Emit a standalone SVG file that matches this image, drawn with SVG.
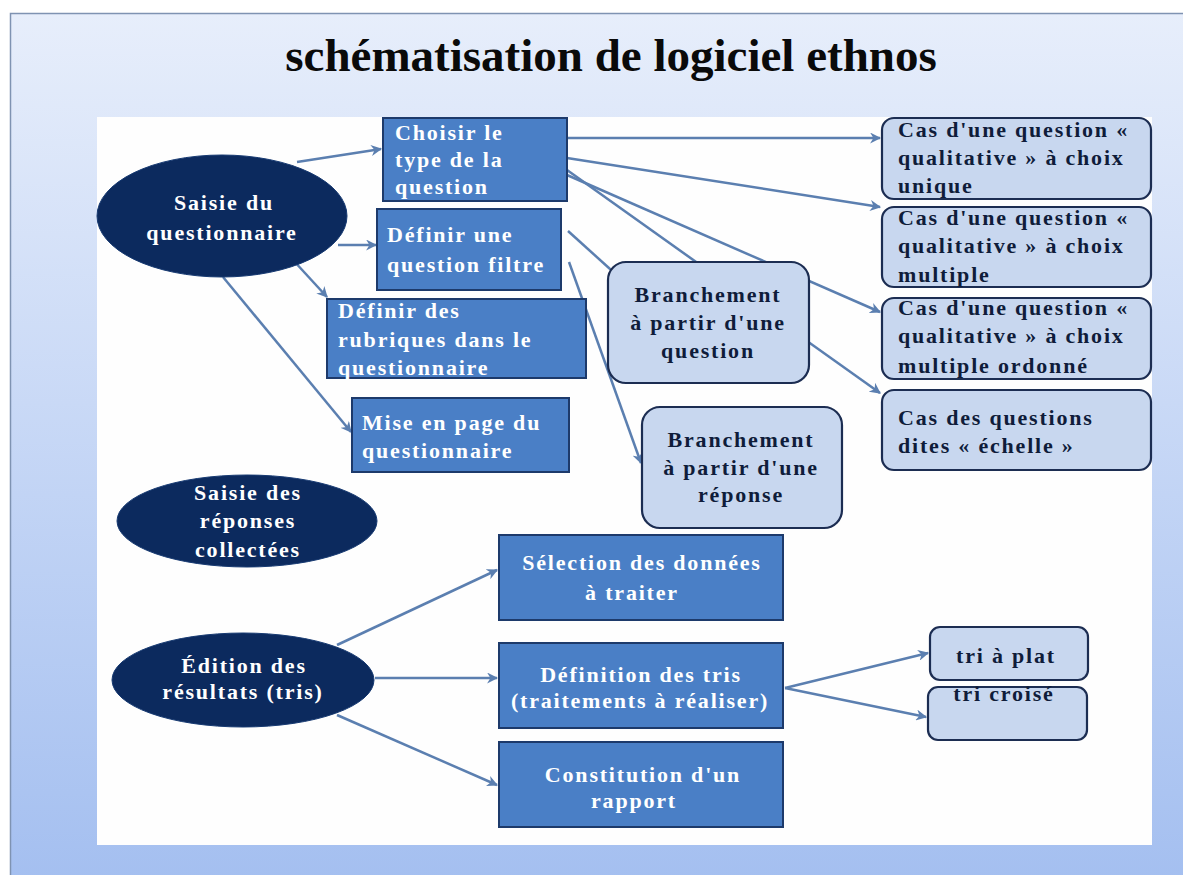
<svg xmlns="http://www.w3.org/2000/svg" width="1183" height="875" viewBox="0 0 1183 875">
<defs>
<linearGradient id="bg" x1="0" y1="0" x2="0" y2="1">
<stop offset="0" stop-color="#e7eefb"/>
<stop offset="1" stop-color="#a4bff0"/>
</linearGradient>
<marker id="ah" viewBox="0 0 10 10" refX="9" refY="5" markerWidth="4.4" markerHeight="4.4" orient="auto" markerUnits="strokeWidth">
<path d="M0,0 L10,5 L0,10 L3,5 z" fill="#5b7fb0"/>
</marker>
<style>
.t{font-family:"Liberation Serif","Times New Roman",serif;font-weight:bold;font-size:22px;letter-spacing:1.8px}
.w{fill:#ffffff}
.k{fill:#0f1c3a}
.m{text-anchor:middle}
.dk{fill:#4a7fc6;stroke:#1d3a6b;stroke-width:2}
.lt{fill:#c8d7ef;stroke:#1c2d52;stroke-width:2.2}
.el{fill:#0c2a5e;stroke:#173a72;stroke-width:1}
.c line{stroke:#5b7fb0;stroke-width:2.5;marker-end:url(#ah)}
</style>
</defs>
<rect x="0" y="0" width="1183" height="875" fill="#ffffff"/>
<rect x="10.5" y="13.5" width="1180" height="870" fill="url(#bg)" stroke="#7f93b2" stroke-width="1.5"/>
<rect x="97" y="117" width="1055" height="728" fill="#fefefe"/>
<text x="611" y="71" text-anchor="middle" font-family="Liberation Serif, Times New Roman, serif" font-weight="bold" font-size="47" fill="#0a0a0a">schématisation de logiciel ethnos</text>

<g class="c" id="connectors">
<line x1="297" y1="162" x2="381" y2="149"/>
<line x1="338" y1="245" x2="376" y2="245"/>
<line x1="293" y1="260" x2="327" y2="297"/>
<line x1="223" y1="277" x2="351" y2="432"/>
<line x1="567" y1="138" x2="880" y2="138"/>
<line x1="567" y1="158" x2="880" y2="207"/>
<line x1="567" y1="175" x2="880" y2="312"/>
<line x1="567" y1="170" x2="880" y2="393"/>
<line x1="568" y1="231" x2="620" y2="278"/>
<line x1="569" y1="262" x2="641" y2="463"/>
<line x1="337" y1="645" x2="497" y2="570"/>
<line x1="375" y1="678" x2="497" y2="678"/>
<line x1="337" y1="715" x2="497" y2="785"/>
<line x1="785" y1="688" x2="928" y2="653"/>
<line x1="785" y1="688" x2="926" y2="717"/>
</g>

<g id="saisie-questionnaire">
<ellipse class="el" cx="222" cy="216" rx="125" ry="61"/>
<text class="t w m" x="224" y="210">Saisie du</text>
<text class="t w m" x="222" y="240">questionnaire</text>
</g>
<g id="choisir-type">
<rect class="dk" x="383" y="118" width="184" height="83"/>
<text class="t w" x="395" y="140">Choisir le</text>
<text class="t w" x="395" y="167">type de la</text>
<text class="t w" x="395" y="194">question</text>
</g>
<g id="definir-filtre">
<rect class="dk" x="377" y="209" width="184" height="81"/>
<text class="t w" x="387" y="242">Définir une</text>
<text class="t w" x="387" y="272">question filtre</text>
</g>
<g id="definir-rubriques">
<rect class="dk" x="327" y="299" width="259" height="79"/>
<text class="t w" x="338" y="318">Définir des</text>
<text class="t w" x="338" y="347">rubriques dans le</text>
<text class="t w" x="338" y="375">questionnaire</text>
</g>
<g id="mise-en-page">
<rect class="dk" x="352" y="398" width="217" height="74"/>
<text class="t w" x="362" y="430">Mise en page du</text>
<text class="t w" x="362" y="458">questionnaire</text>
</g>
<g id="branchement-question">
<rect class="lt" x="608" y="262" width="201" height="121" rx="18"/>
<text class="t k m" x="708" y="302">Branchement</text>
<text class="t k m" x="708" y="330">à partir d'une</text>
<text class="t k m" x="708" y="358">question</text>
</g>
<g id="branchement-reponse">
<rect class="lt" x="642" y="407" width="200" height="121" rx="18"/>
<text class="t k m" x="741" y="447">Branchement</text>
<text class="t k m" x="741" y="475">à partir d'une</text>
<text class="t k m" x="741" y="502">réponse</text>
</g>
<g id="cas-unique">
<rect class="lt" x="882" y="118" width="269" height="81" rx="12"/>
<text class="t k" x="898" y="137">Cas d'une question «</text>
<text class="t k" x="898" y="165">qualitative » à choix</text>
<text class="t k" x="898" y="193">unique</text>
</g>
<g id="cas-multiple">
<rect class="lt" x="882" y="207" width="269" height="80" rx="12"/>
<text class="t k" x="898" y="225">Cas d'une question «</text>
<text class="t k" x="898" y="253">qualitative » à choix</text>
<text class="t k" x="898" y="282">multiple</text>
</g>
<g id="cas-ordonne">
<rect class="lt" x="882" y="298" width="269" height="81" rx="12"/>
<text class="t k" x="898" y="315">Cas d'une question «</text>
<text class="t k" x="898" y="343">qualitative » à choix</text>
<text class="t k" x="898" y="373">multiple ordonné</text>
</g>
<g id="cas-echelle">
<rect class="lt" x="882" y="390" width="269" height="80" rx="12"/>
<text class="t k" x="898" y="425">Cas des questions</text>
<text class="t k" x="898" y="453">dites « échelle »</text>
</g>
<g id="saisie-reponses">
<ellipse class="el" cx="247" cy="521" rx="130" ry="46"/>
<text class="t w m" x="248" y="500">Saisie des</text>
<text class="t w m" x="248" y="528">réponses</text>
<text class="t w m" x="248" y="557">collectées</text>
</g>
<g id="edition-resultats">
<ellipse class="el" cx="243" cy="680" rx="131" ry="47"/>
<text class="t w m" x="244" y="673">Édition des</text>
<text class="t w m" x="243" y="699">résultats (tris)</text>
</g>
<g id="selection-donnees">
<rect class="dk" x="499" y="535" width="284" height="85"/>
<text class="t w m" x="642" y="570">Sélection des données</text>
<text class="t w m" x="632" y="600">à traiter</text>
</g>
<g id="definition-tris">
<rect class="dk" x="499" y="643" width="284" height="85"/>
<text class="t w m" x="641" y="682">Définition des tris</text>
<text class="t w m" x="640" y="708">(traitements à réaliser)</text>
</g>
<g id="constitution-rapport">
<rect class="dk" x="499" y="742" width="284" height="85"/>
<text class="t w m" x="643" y="782">Constitution d'un</text>
<text class="t w m" x="634" y="808">rapport</text>
</g>
<g id="tri-plat">
<rect class="lt" x="930" y="627" width="158" height="53" rx="10"/>
<text class="t k m" x="1006" y="663">tri à plat</text>
</g>
<g id="tri-croise">
<rect class="lt" x="928" y="687" width="159" height="53" rx="10"/>
<text class="t k m" x="1004" y="701">tri croisé</text>
</g>
</svg>
